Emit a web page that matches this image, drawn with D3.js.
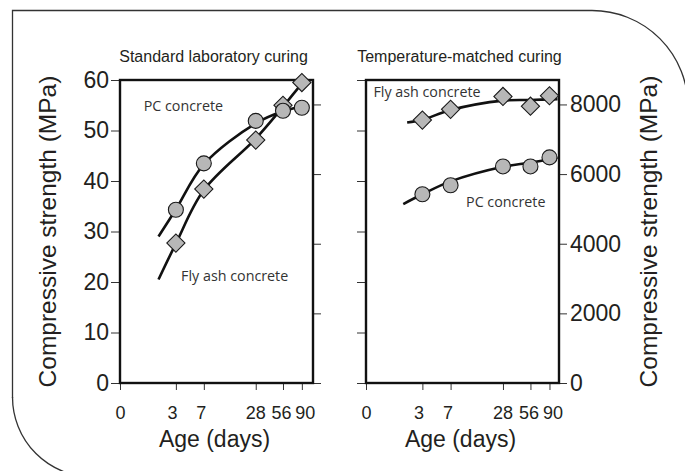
<!DOCTYPE html>
<html>
<head>
<meta charset="utf-8">
<script src="https://cdn.jsdelivr.net/npm/d3@7"></script>
<style>
  html, body { margin: 0; padding: 0; background: #fff; }
  svg { display: block; }
</style>
</head>
<body>
<script>
// ---------- data ----------
const ages = [3, 7, 28, 56, 90];
const xTickValues = [0, 3, 7, 28, 56, 90];
const mpaTicks = [0, 10, 20, 30, 40, 50, 60];
const psiTicks = [0, 2000, 4000, 6000, 8000];
const panelTitles = ["Standard laboratory curing", "Temperature-matched curing"];
const yTitle = "Compressive strength (MPa)";
const xTitle = "Age (days)";

// Standard laboratory curing (MPa)
const stdPC = [34.3, 43.5, 51.9, 53.9, 54.5];
const stdFA = [27.7, 38.4, 48.1, 55.0, 59.5];
// fitted curves: [age, MPa]
const stdPCCurve = [[1.6, 29.0], [3, 34.4], [7, 43.3], [28, 51.4], [56, 53.8], [100, 54.9]];
const stdFACurve = [[1.6, 20.5], [3, 27.6], [7, 38.2], [28, 48.4], [56, 54.7], [90, 59.3], [110, 61.0]];

// Temperature-matched curing (psi)
const tmPC = [5420, 5680, 6220, 6220, 6480];
const tmFA = [7550, 7860, 8230, 7950, 8250];
const tmPCCurve = [[1.5, 5140], [3, 5420], [7, 5790], [28, 6210], [56, 6330], [110, 6470]];
const tmFACurve = [[1.75, 7480], [3, 7560], [7, 7840], [28, 8110], [56, 8130], [110, 8150]];

const labels = {
  std: [{ t: "PC concrete", age: 0.8, v: 53.9 }, { t: "Fly ash concrete", age: 3.55, v: 20.1 }],
  tm: [{ t: "Fly ash concrete", age: 0.2, v: 8205 }, { t: "PC concrete", age: 10.7, v: 5046 }]
};

// ---------- layout ----------
const W = 685, H = 471;
const svg = d3.select("body").append("svg").attr("width", W).attr("height", H);
const FONT = "'Liberation Sans', Arial, Helvetica, sans-serif";
const ANN_FONT = "'Open Sans', 'Noto Sans', sans-serif";
const TXT = "#231f20";
// small horizontal nudges of the age tick labels (layout only)
const xLabelNudge = { 0: 0, 3: -4, 7: -3, 28: -0.5, 56: -2, 90: 3 };

// decorative border
svg.append("path")
  .attr("d", "M12.5,398 L12.5,10.5 L592,10.5 A96,96 0 0 1 688,106.5")
  .attr("fill", "none").attr("stroke", "#333").attr("stroke-width", 1.3);
svg.append("path")
  .attr("d", "M12.5,397 A80,80 0 0 0 92.5,477")
  .attr("fill", "none").attr("stroke", "#333").attr("stroke-width", 1.3);

const plotTop = 80, plotBottom = 383;
const panels = [
  { key: "std", x0: 120, x1: 313, maxAge: 119 },
  { key: "tm", x0: 366, x1: 559, maxAge: 114 }
];

const yMPa = d3.scaleLinear().domain([0, 60]).range([plotBottom, plotTop]);
const yPsi = d3.scaleLinear().domain([0, 60 * 145.038]).range([plotBottom, plotTop]);

function styleAxis(g, fs) {
  g.select(".domain").remove();
  g.selectAll(".tick line").attr("stroke", "#333").attr("stroke-width", 1);
  g.selectAll(".tick text").attr("fill", TXT).attr("font-family", FONT).attr("font-size", fs);
}

panels.forEach((p, i) => {
  const x = d3.scaleLog().domain([1, p.maxAge + 1]).range([p.x0, p.x1]);
  const xa = d => x(d + 1);
  const yv = p.key === "std" ? yMPa : yPsi;

  const clipId = "clip" + i;
  svg.append("clipPath").attr("id", clipId).append("rect")
    .attr("x", p.x0).attr("y", plotTop).attr("width", p.x1 - p.x0).attr("height", plotBottom - plotTop);

  // bottom axis
  const gx = svg.append("g").attr("transform", `translate(0,${plotBottom})`)
    .call(d3.axisBottom(x).tickValues(xTickValues.map(d => d + 1))
      .tickFormat(d => String(Math.round(d - 1))).tickSize(7).tickPadding(16));
  styleAxis(gx, "18px");
  gx.selectAll(".tick text").attr("dx", d => xLabelNudge[Math.round(d - 1)] || 0);

  // left axis
  const gl = svg.append("g").attr("transform", `translate(${p.x0},0)`)
    .call(d3.axisLeft(yMPa).tickValues(mpaTicks).tickSize(9).tickPadding(2)
      .tickFormat(p.key === "std" ? d3.format("d") : () => ""));
  styleAxis(gl, "23px");

  // right axis
  const gr = svg.append("g").attr("transform", `translate(${p.x1},0)`)
    .call(d3.axisRight(yPsi).tickValues(psiTicks).tickSize(8).tickPadding(3)
      .tickFormat(p.key === "tm" ? d3.format("d") : () => ""));
  styleAxis(gr, "23px");

  // curves
  const line = d3.line().x(d => xa(d[0])).y(d => yv(d[1])).curve(d3.curveCatmullRom.alpha(0.5));
  const curves = p.key === "std" ? [stdPCCurve, stdFACurve] : [tmPCCurve, tmFACurve];
  curves.forEach(c => {
    svg.append("path").datum(c).attr("d", line)
      .attr("clip-path", `url(#${clipId})`)
      .attr("fill", "none").attr("stroke", "#111").attr("stroke-width", 2.6);
  });

  // frame
  svg.append("rect").attr("x", p.x0).attr("y", plotTop)
    .attr("width", p.x1 - p.x0).attr("height", plotBottom - plotTop)
    .attr("fill", "none").attr("stroke", "#111").attr("stroke-width", 2.4);

  // markers
  const pcVals = p.key === "std" ? stdPC : tmPC;
  const faVals = p.key === "std" ? stdFA : tmFA;
  const diamond = d3.symbol().type(d3.symbolSquare).size(165);
  svg.append("g").selectAll("path").data(ages.map((a, j) => [a, faVals[j]])).join("path")
    .attr("d", diamond)
    .attr("transform", d => `translate(${xa(d[0])},${yv(d[1])}) rotate(45)`)
    .attr("fill", "#b7b7b7").attr("stroke", "#1a1a1a").attr("stroke-width", 1.1);
  svg.append("g").selectAll("circle").data(ages.map((a, j) => [a, pcVals[j]])).join("circle")
    .attr("cx", d => xa(d[0])).attr("cy", d => yv(d[1])).attr("r", 7.5)
    .attr("fill", "#b7b7b7").attr("stroke", "#1a1a1a").attr("stroke-width", 1.1);

  // annotations
  labels[p.key].forEach(l => {
    svg.append("text").attr("x", xa(l.age)).attr("y", yv(l.v))
      .attr("font-family", ANN_FONT).attr("font-size", "14.3px").attr("fill", "#333")
      .text(l.t);
  });

  // panel title
  svg.append("text").attr("x", (p.x0 + p.x1) / 2 - 3).attr("y", 62)
    .attr("text-anchor", "middle").attr("font-family", FONT).attr("font-size", "16px")
    .attr("fill", TXT).text(panelTitles[i]);

  // x title
  svg.append("text").attr("x", (p.x0 + p.x1) / 2 - 2).attr("y", 447)
    .attr("text-anchor", "middle").attr("font-family", FONT).attr("font-size", "23px")
    .attr("fill", TXT).text(xTitle);
});

// y titles
svg.append("text").attr("transform", "translate(56,231.5) rotate(-90)")
  .attr("text-anchor", "middle").attr("font-family", FONT).attr("font-size", "24.5px")
  .attr("fill", TXT).text(yTitle);
svg.append("text").attr("transform", "translate(657,231.5) rotate(-90)")
  .attr("text-anchor", "middle").attr("font-family", FONT).attr("font-size", "24.5px")
  .attr("fill", TXT).text(yTitle);
</script>
</body>
</html>
